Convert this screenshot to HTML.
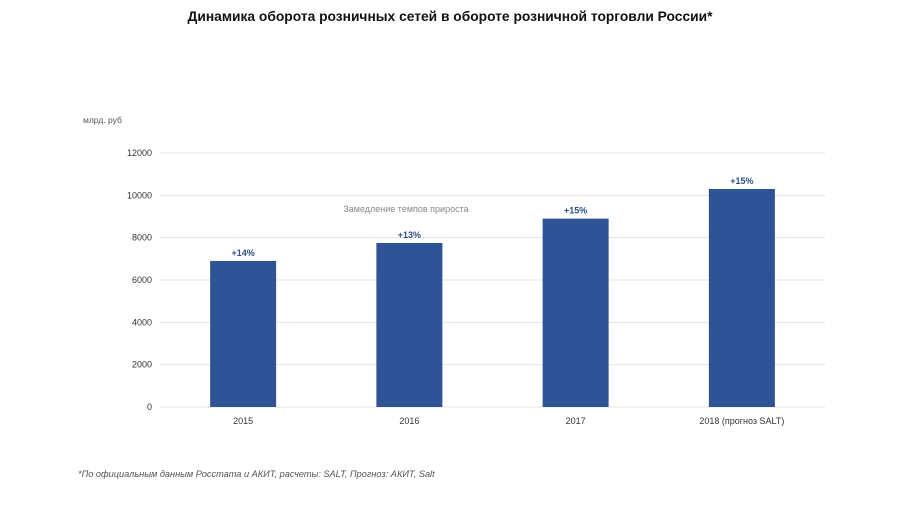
<!DOCTYPE html>
<html><head><meta charset="utf-8"><style>
body{margin:0;background:#fff;font-family:"Liberation Sans","Noto Sans CJK SC",sans-serif;}
#wrap{position:relative;width:900px;height:506px;overflow:hidden;}
</style></head><body>
<div id="wrap">
<svg id="svg" width="900" height="506" xmlns="http://www.w3.org/2000/svg">
<text x="450" y="21" text-anchor="middle" font-size="13.8" font-weight="bold" fill="#111" font-family="Liberation Sans, sans-serif">Динамика оборота розничных сетей в обороте розничной торговли России*</text>
<text x="83" y="123" font-size="8.5" fill="#555" font-family="Liberation Sans, sans-serif">млрд.  руб</text>
<text x="406" y="212" text-anchor="middle" font-size="9" fill="#888" font-family="Liberation Sans, sans-serif">Замедление  темпов прироста</text>
<text x="78" y="477" font-size="9.2" font-style="italic" fill="#555" font-family="Liberation Sans, sans-serif">*По официальным данным Росстата и АКИТ, расчеты: SALT, Прогноз: АКИТ, Salt</text>
<g id="grid"></g><g id="bars"></g>
</svg>
</div>
<script>
const categories=["2015","2016","2017","2018 (прогноз  SALT)"];
const values=[6900,7750,8900,10300];
const growthLabels=["+14%","+13%","+15%","+15%"];
const yTicks=[0,2000,4000,6000,8000,10000,12000];
const NS="http://www.w3.org/2000/svg";
const x0=160,x1=825,y0=407,yTop=153,yMax=12000;
const yScale=v=>y0-(v/yMax)*(y0-yTop);
const band=(x1-x0)/categories.length;
const xCenter=i=>x0+band*(i+0.5);
const grid=document.getElementById('grid'),bars=document.getElementById('bars');
function mk(tag,attrs,parent){const e=document.createElementNS(NS,tag);for(const k in attrs)e.setAttribute(k,attrs[k]);parent.appendChild(e);return e;}
yTicks.forEach(t=>{
  const y=yScale(t);
  const l=mk('line',{x1:x0,x2:x1,y1:y,y2:y,stroke:'#e3e3e3','stroke-width':1},grid);
  
  
  const tx=mk('text',{x:152,y:y+3,'text-anchor':'end','font-size':9,fill:'#333','font-family':'Liberation Sans, sans-serif'},grid);
  tx.textContent=t;
  
  
});
categories.forEach((c,i)=>{
  const cx=xCenter(i),y=yScale(values[i]),w=66;
  const r=mk('rect',{x:cx-w/2,y:y,width:w,height:y0-y,fill:'#2e5496'},bars);
  
  
  const lb=mk('text',{x:cx,y:y-5,'text-anchor':'middle','font-size':9,'font-weight':'bold',fill:'#2e4f8a','font-family':'Liberation Sans, sans-serif'},bars);
  lb.textContent=growthLabels[i];
  
  
  const xl=mk('text',{x:cx,y:424,'text-anchor':'middle','font-size':9,fill:'#333','font-family':'Liberation Sans, sans-serif'},bars);
  xl.textContent=c;
  
  
});
</script>
</body></html>
